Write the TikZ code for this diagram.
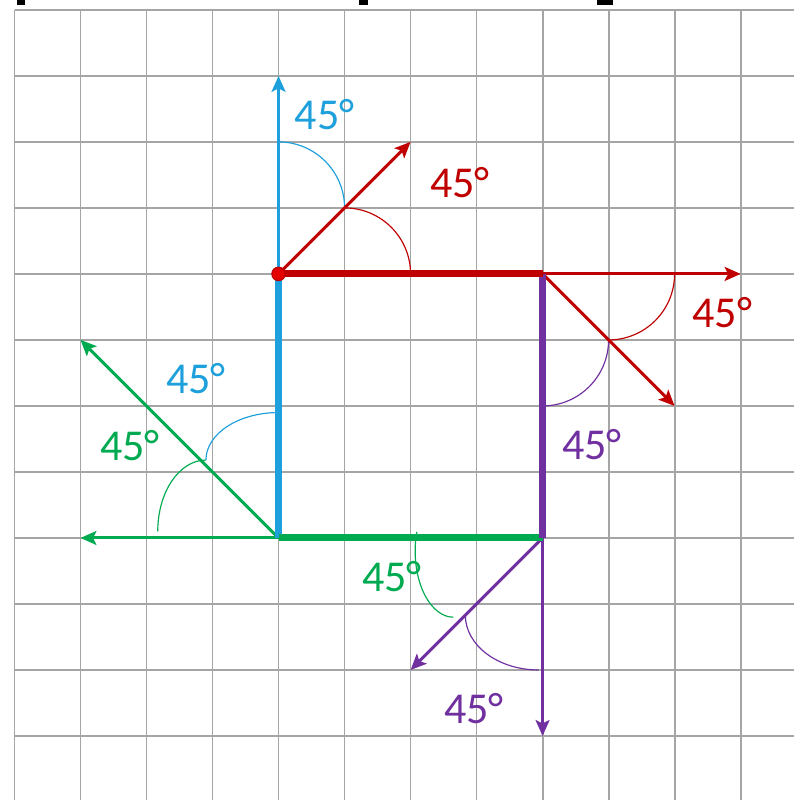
\documentclass[tikz,border=0pt]{standalone}
\usepackage{fontspec}
\setmainfont{Carlito}
\usetikzlibrary{arrows.meta}
\definecolor{angblue}{RGB}{30,160,220}
\definecolor{angred}{RGB}{192,0,0}
\definecolor{angpurple}{RGB}{112,48,160}
\definecolor{anggreen}{RGB}{0,170,80}
\definecolor{gridgray}{RGB}{165,165,165}

\begin{document}
\begin{tikzpicture}[x=1cm,y=1cm,
  side/.style={line width=3pt},
  ray/.style={line width=1.3pt,-{Stealth[length=2.4mm,width=2.1mm,inset=0.5mm]}},
  swing/.style={line width=0.5pt},
  deg/.style={font=\fontsize{19}{19}\selectfont, inner sep=0pt}]
\useasboundingbox (-4.22,-7.97) rectangle (7.81,4.15);
\fill[white] (-4.22,-7.97) rectangle (7.81,4.15);
\foreach \x in {-4,...,7} \draw[gridgray, line width=0.8pt] (\x,4) -- (\x,-7.97);
\foreach \y in {-7,...,4} \draw[gridgray, line width=0.8pt] (-4,\y) -- (7.81,\y);
\fill[black] (-3.96,4.07) rectangle (-3.84,4.15);
\fill[black] (1.22,4.07) rectangle (1.36,4.15);
\fill[black] (4.83,4.07) rectangle (5.07,4.15);

\coordinate (O) at (0,0);
\coordinate (A) at (4,0);
\coordinate (B) at (4,-4);
\coordinate (C) at (0,-4);
\coordinate (Otop) at (0,3);
\coordinate (Odiag) at (2,2);
\coordinate (Aright) at (7,0);
\coordinate (Adiag) at (6,-2);
\coordinate (Bdown) at (4,-7);
\coordinate (Bdiag) at (2,-6);
\coordinate (Cleft) at (-3,-4);
\coordinate (Cdiag) at (-3,-1);

\draw[angblue, swing] (0,2) arc[start angle=90, end angle=0, radius=1];
\draw[angred, swing] (1,1) arc[start angle=90, end angle=0, radius=1];
\draw[angred, swing] (6,0) arc[start angle=0, end angle=-90, radius=1];
\draw[angpurple, swing] (5,-1) arc[start angle=0, end angle=-90, radius=1];
\draw[angblue, swing] (0,-2.1) arc[start angle=90, end angle=180, x radius=1.1, y radius=0.72];
\draw[anggreen, swing] (-1.1,-2.82) arc[start angle=90, end angle=180, x radius=0.73, y radius=1.08];
\draw[anggreen, swing] (2.095,-3.908) arc[start angle=163, end angle=270, x radius=0.58, y radius=1.0];
\draw[angpurple, swing] (2.83,-5.17) arc[start angle=180, end angle=270, x radius=1.11, y radius=0.83];

\draw[ray, angblue] (O) -- (Otop);
\draw[ray, angred] (O) -- (Odiag);
\draw[ray, angred] (A) -- (Aright);
\draw[ray, angred] (A) -- (Adiag);
\draw[ray, angpurple] (B) -- (Bdown);
\draw[ray, angpurple] (B) -- (Bdiag);
\draw[ray, anggreen] (C) -- (Cleft);
\draw[ray, anggreen] (C) -- (Cdiag);

\draw[side, angblue] (O) -- (C);
\draw[side, anggreen] (C) -- (B);
\draw[side, angpurple] (A) -- (B);
\draw[side, angred] (O) -- (A);
\node[circle, fill=red!90!black, draw=angred, line width=0.6pt, inner sep=0pt, minimum size=2mm] (dot) at (O) {};

\node[deg, text=angblue] (lblup) at (0.70,2.41) {45°};
\node[deg, text=angred] (lbltop) at (2.75,1.39) {45°};
\node[deg, text=angred] (lblright) at (6.72,-0.58) {45°};
\node[deg, text=angpurple] (lblside) at (4.75,-2.59) {45°};
\node[deg, text=angblue] (lblleft) at (-1.25,-1.58) {45°};
\node[deg, text=anggreen] (lblgreen) at (-2.25,-2.60) {45°};
\node[deg, text=anggreen] (lblbottom) at (1.72,-4.58) {45°};
\node[deg, text=angpurple] (lbldown) at (2.96,-6.58) {45°};
\end{tikzpicture}
\end{document}
